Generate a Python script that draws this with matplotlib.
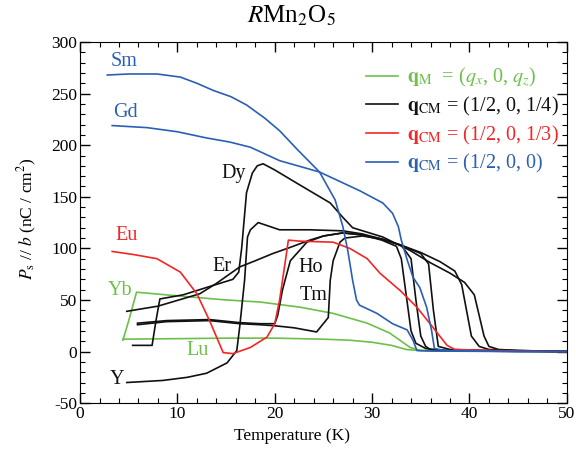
import numpy as np
import matplotlib
matplotlib.use("Agg")
import matplotlib.pyplot as plt
from matplotlib.ticker import MultipleLocator

plt.rcParams['font.family'] = ['Liberation Serif', 'DejaVu Serif']
plt.rcParams['mathtext.fontset'] = 'stix'
plt.rcParams['axes.unicode_minus'] = False

BLUE = '#2b5fb4'
RED = '#f42525'
GREEN = '#6cc04a'
BLACK = '#111111'

# --- data (T in K, P in nC/cm^2) ---
sm_T = [2.8, 5, 7.9, 10.3, 12, 13.7, 15.5, 17.1, 19, 20.5, 22.3, 24.6, 26.2, 27.0, 27.5, 28.0, 28.4, 28.7, 30.5, 32.1, 33.6, 34.2, 34.6, 36, 40, 45, 50]
sm_P = [268, 269, 269, 266, 260, 253, 247, 239, 226, 214, 196, 174, 147, 121, 98, 69, 50, 45, 37, 27, 21, 11, 1, 0.5, 0.3, 0, 0]

gd_T = [3.3, 6.9, 10, 13, 15.4, 17.5, 20.5, 24.6, 28.7, 31.1, 32.1, 32.7, 33.0, 33.6, 34.2, 34.9, 35.6, 36.1, 36.4, 37.5, 45, 50]
gd_P = [219, 217, 213, 207, 203, 198, 185, 174, 156, 144, 134, 121, 108, 89, 72, 62, 43, 21, 3, 1, 0, 0]

eu_T = [3.3, 5.5, 7.9, 10.3, 12, 13.3, 14.7, 15.7, 17.5, 19.2, 20, 20.5, 21, 21.4, 22.6, 26, 27.7, 29.5, 30.8, 32.9, 34.6, 36.2, 37.7, 38.5, 45, 50]
eu_P = [97, 94, 90, 77, 56, 30, -1, -2, 4, 14, 27, 50, 82, 108, 107, 106, 100, 90, 76, 59, 43, 24, 6, 2, 0.5, 0]

yb_T = [4.4, 5.0, 5.8, 10, 15, 18.5, 22.6, 26, 29.5, 31.8, 33.9, 35, 40, 50]
yb_P = [11, 30, 57.5, 54, 50, 48, 43, 37, 27.5, 18, 4, 1, 0.5, 0]

lu_T = [4.4, 10, 15, 20, 25, 27.7, 30, 32, 33.5, 35, 40, 50]
lu_P = [12, 12.5, 13, 13, 12, 11, 9, 6, 2, 1, 0.5, 0]

y_T = [4.8, 8.5, 11, 13, 15.1, 16.1, 16.4, 16.9, 17.2, 17.5, 18.3, 20.5, 23.6, 27, 29, 31, 33, 35, 35.8, 36.3, 36.8, 38, 42, 50]
y_P = [-30, -28, -25, -21, -11, 1, 24, 69, 111, 118, 125, 118, 118, 117, 114, 109, 103, 95, 85, 40, 5, 2, 1, 0]

dy_T = [5.4, 7.4, 7.8, 8.2, 10.6, 13.3, 15.7, 16.3, 16.6, 17.1, 17.7, 18.2, 18.8, 20, 22.3, 25.7, 27, 28, 31.1, 33.9, 36, 38, 39.5, 40.5, 41, 41.5, 42, 43, 45, 50]
dy_P = [6, 6, 30, 51, 55, 63, 70, 77, 100, 154, 173, 180, 182, 176, 163, 144, 130, 120, 111, 98, 86, 76, 67, 55, 35, 15, 5, 2, 1, 0]

er_T = [4.8, 8, 12.3, 14, 16.4, 18, 19.8, 21.6, 23.6, 25, 27, 29, 31, 33, 35, 37, 38.5, 39.2, 39.7, 40.2, 41, 42, 45, 50]
er_P = [39, 44, 56, 66, 82, 88, 95, 101, 108, 112, 115, 113, 109, 103, 96, 87, 78, 65, 40, 15, 5, 2, 1, 0]

ho_T = [5.9, 8.9, 13.3, 16.4, 18.5, 20, 20.3, 20.8, 21.6, 23.3, 25, 27, 29, 31, 32.5, 33, 33.5, 34, 34.5, 35.5, 37, 42, 50]
ho_P = [27.5, 30, 31, 28, 27, 27, 35, 60, 88, 106, 112, 115, 113, 108, 102, 90, 55, 20, 8, 3, 1, 0.5, 0]

tm_T = [5.9, 8.9, 13.3, 16.4, 18.5, 20, 22, 24.3, 25.5, 25.7, 26, 26.7, 27.2, 29, 31, 33, 34, 34.5, 35, 35.5, 36, 38, 45, 50]
tm_P = [26, 29, 30, 27, 26, 25, 23, 19, 33, 69, 88, 106, 110, 112, 109, 103, 90, 50, 15, 5, 2, 1, 0.5, 0]

labels = ['Sm', 'Gd', 'Dy', 'Eu', 'Er', 'Ho', 'Tm', 'Yb', 'Lu', 'Y']
label_T = [4.5, 4.7, 15.8, 4.8, 14.6, 23.7, 24.0, 4.1, 12.1, 3.8]
label_P = [281, 232, 173, 112, 82, 81, 54, 59, 1, -27]
label_col = [BLUE, BLUE, BLACK, RED, BLACK, BLACK, BLACK, GREEN, GREEN, BLACK]


def main():
    fig = plt.figure(figsize=(5.76, 4.54), dpi=100)
    ax = fig.add_axes([0.139, 0.112, 0.845, 0.7955])

    lw = 1.2
    for T, P in [(yb_T, yb_P), (lu_T, lu_P)]:
        ax.plot(T, P, color=GREEN, lw=lw)
    for T, P in [(y_T, y_P), (dy_T, dy_P), (er_T, er_P), (ho_T, ho_P), (tm_T, tm_P)]:
        ax.plot(T, P, color=BLACK, lw=lw)
    ax.plot(eu_T, eu_P, color=RED, lw=lw)
    for T, P in [(sm_T, sm_P), (gd_T, gd_P)]:
        ax.plot(T, P, color=BLUE, lw=lw)

    for name, t, p, c in zip(labels, label_T, label_P, label_col):
        ax.text(t, p, name, color=c, fontsize=14.5, ha='center', va='center')

    # legend
    leg_text = [r'$\mathbf{q}_{\mathrm{M}}$  = ($q_x$, 0, $q_z$)',
                r'$\mathbf{q}_{\mathrm{CM}}$ = (1/2, 0, 1/4)',
                r'$\mathbf{q}_{\mathrm{CM}}$ = (1/2, 0, 1/3)',
                r'$\mathbf{q}_{\mathrm{CM}}$ = (1/2, 0, 0)']
    leg_col = [GREEN, BLACK, RED, BLUE]
    handles = [plt.Line2D([], [], color=c, lw=lw) for c in leg_col]
    ax.legend(handles, leg_text, loc='upper right', frameon=False, fontsize=14.5,
              labelcolor=leg_col, handlelength=1.6, handletextpad=0.45,
              labelspacing=0.28, borderaxespad=0.0, bbox_to_anchor=(1.0, 0.955))

    ax.set_xlim(0, 50)
    ax.set_ylim(-50, 300)
    ax.xaxis.set_major_locator(MultipleLocator(10))
    ax.xaxis.set_minor_locator(MultipleLocator(2))
    ax.yaxis.set_major_locator(MultipleLocator(50))
    ax.yaxis.set_minor_locator(MultipleLocator(10))
    ax.tick_params(which='both', direction='in', top=True, right=True, labelsize=12.5)
    ax.tick_params(which='major', length=7, width=1)
    ax.tick_params(which='minor', length=3.5, width=0.8)
    ax.xaxis.set_tick_params(pad=2)
    ax.yaxis.set_tick_params(pad=2)

    ax.set_xlabel('Temperature (K)', fontsize=12.5)
    ax.xaxis.set_label_coords(0.436, -0.07)
    ax.set_ylabel(r'$P_{\mathrm{s}}$ // $b$ (nC / cm$^2$)', fontsize=12.5)
    ax.yaxis.set_label_coords(-0.085, 0.51)
    fig.text(0.505, 0.965, r'$R$Mn$_2$O$_5$', fontsize=18, ha='center', va='center')

    fig.savefig('out.png', dpi=100)


if __name__ == "__main__":
    main()
